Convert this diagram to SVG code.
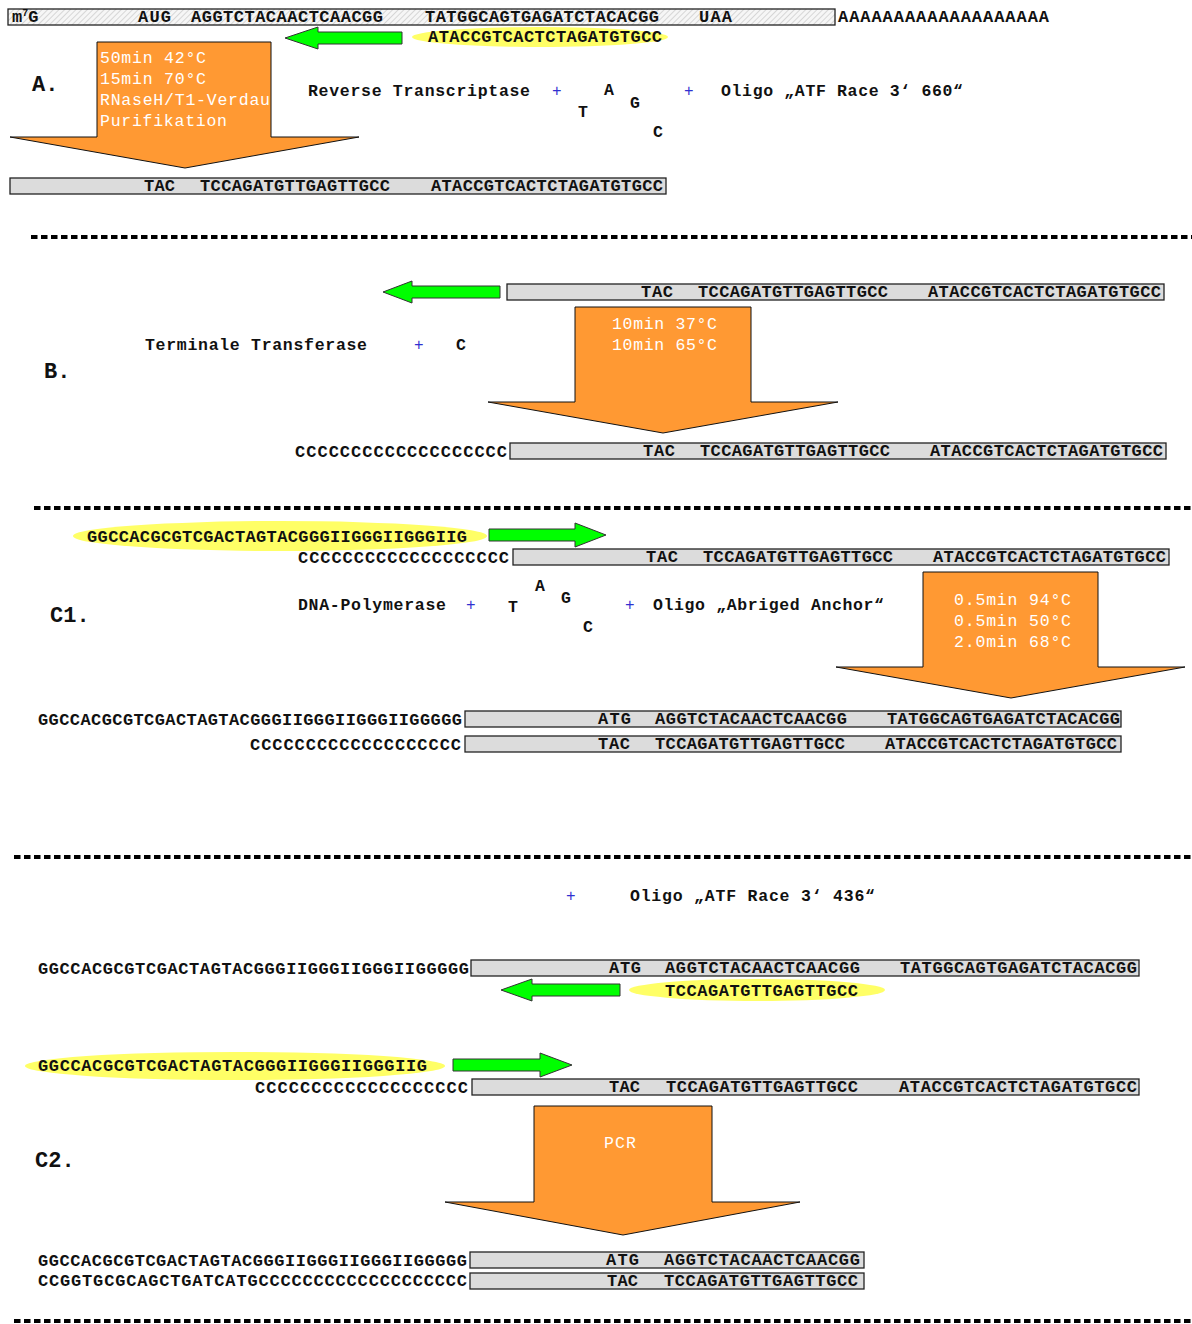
<svg xmlns="http://www.w3.org/2000/svg" width="1192" height="1324" viewBox="0 0 1192 1324">
<defs>
<pattern id="hatch" patternUnits="userSpaceOnUse" width="4" height="4" patternTransform="rotate(45)">
<rect width="4" height="4" fill="#f6f6f6"/>
<line x1="0" y1="0" x2="0" y2="4" stroke="#bbbbbb" stroke-width="1.1"/>
</pattern>
</defs>
<style>
text{font-family:"Liberation Mono","Courier New",monospace;}
.seq{font-size:17px;font-weight:bold;fill:#111;}
.lbl{font-size:16.5px;font-weight:bold;fill:#111;}
.big{font-size:22px;font-weight:bold;fill:#111;}
.wt{font-size:16.5px;fill:#fff;}
.plus{font-size:16px;fill:#3030d0;}
.bar{fill:#dcdcdc;stroke:#222;stroke-width:1.3;}
.green{fill:#00ff00;stroke:#333;stroke-width:1;}
.yel{fill:#ffff66;}
.orange{fill:#ff9933;stroke:#111;stroke-width:1;}
.dash{stroke:#000;stroke-width:4;stroke-dasharray:6.5 3.5;fill:none;}
</style>

<g id="separators">
<line class="dash" x1="31" y1="237" x2="1192" y2="237"/>
<line class="dash" x1="34" y1="508" x2="1192" y2="508"/>
<line class="dash" x1="14" y1="857" x2="1192" y2="857"/>
<line class="dash" x1="14" y1="1321" x2="1192" y2="1321"/>
</g>

<!-- Section A -->
<g id="mrna">
<rect x="8" y="9" width="827" height="16" fill="url(#hatch)" stroke="#222" stroke-width="1.3"/>
<text class="seq" x="12" y="22">m<tspan font-size="10" dy="-6">7</tspan><tspan dy="6">G</tspan></text>
<text class="seq" x="138" y="22" textLength="33" lengthAdjust="spacing">AUG</text>
<text class="seq" x="191" y="22" textLength="192" lengthAdjust="spacing">AGGTCTACAACTCAACGG</text>
<text class="seq" x="425" y="22" textLength="234" lengthAdjust="spacing">TATGGCAGTGAGATCTACACGG</text>
<text class="seq" x="699" y="22" textLength="33" lengthAdjust="spacing">UAA</text>
<text class="seq" x="838" y="22" textLength="211" lengthAdjust="spacing">AAAAAAAAAAAAAAAAAAA</text>
</g>
<g id="primerA">
<ellipse class="yel" cx="540" cy="37" rx="128" ry="10"/>
<text class="seq" x="428" y="42" textLength="234" lengthAdjust="spacing">ATACCGTCACTCTAGATGTGCC</text>
</g>
<g id="labelA"><text class="big" x="32" y="91">A.</text></g>
<g id="reagentsA">
<text class="lbl" x="308" y="96" textLength="222" lengthAdjust="spacing">Reverse Transcriptase</text>
<text class="plus" x="552" y="96">+</text>
<text class="lbl" x="604" y="95">A</text>
<text class="lbl" x="578" y="117">T</text>
<text class="lbl" x="630" y="108">G</text>
<text class="lbl" x="653" y="137">C</text>
<text class="plus" x="684" y="96">+</text>
<text class="lbl" x="721" y="96" textLength="242" lengthAdjust="spacing">Oligo „ATF Race 3‘ 660“</text>
</g>
<g id="stepA">
<polygon class="orange" points="97,42 271,42 271,137 359,137 185,168 10,137 97,137"/>
<text class="wt" x="100" y="63" textLength="106" lengthAdjust="spacing">50min 42°C</text>
<text class="wt" x="100" y="84" textLength="106" lengthAdjust="spacing">15min 70°C</text>
<text class="wt" x="100" y="105" textLength="170" lengthAdjust="spacing">RNaseH/T1-Verdau</text>
<text class="wt" x="100" y="126" textLength="127" lengthAdjust="spacing">Purifikation</text>
</g>
<g id="cdnaA">
<rect class="bar" x="10" y="178" width="656" height="16"/>
<text class="seq" x="144" y="191" textLength="31" lengthAdjust="spacing">TAC</text>
<text class="seq" x="200" y="191" textLength="190" lengthAdjust="spacing">TCCAGATGTTGAGTTGCC</text>
<text class="seq" x="431" y="191" textLength="232" lengthAdjust="spacing">ATACCGTCACTCTAGATGTGCC</text>
</g>

<!-- Section B -->
<g id="cdnaB1">
<rect class="bar" x="507" y="284" width="657" height="16"/>
<text class="seq" x="641" y="297" textLength="32" lengthAdjust="spacing">TAC</text>
<text class="seq" x="698" y="297" textLength="190" lengthAdjust="spacing">TCCAGATGTTGAGTTGCC</text>
<text class="seq" x="928" y="297" textLength="233" lengthAdjust="spacing">ATACCGTCACTCTAGATGTGCC</text>
</g>
<g id="labelB"><text class="big" x="44" y="378">B.</text></g>
<g id="reagentsB">
<text class="lbl" x="145" y="350" textLength="222" lengthAdjust="spacing">Terminale Transferase</text>
<text class="plus" x="414" y="350">+</text>
<text class="lbl" x="456" y="350">C</text>
</g>
<g id="stepB">
<polygon class="orange" points="575,307 751,307 751,402 838,402 663,433 488,402 575,402"/>
<text class="wt" x="612" y="329" textLength="105" lengthAdjust="spacing">10min 37°C</text>
<text class="wt" x="612" y="350" textLength="105" lengthAdjust="spacing">10min 65°C</text>
</g>
<g id="cdnaB2">
<text class="seq" x="295" y="457" textLength="212" lengthAdjust="spacing">CCCCCCCCCCCCCCCCCCC</text>
<rect class="bar" x="510" y="443" width="656" height="16"/>
<text class="seq" x="643" y="456" textLength="32" lengthAdjust="spacing">TAC</text>
<text class="seq" x="700" y="456" textLength="190" lengthAdjust="spacing">TCCAGATGTTGAGTTGCC</text>
<text class="seq" x="930" y="456" textLength="233" lengthAdjust="spacing">ATACCGTCACTCTAGATGTGCC</text>
</g>

<!-- Section C1 -->
<g id="anchorC1">
<ellipse class="yel" cx="280" cy="536" rx="207" ry="15"/>
<text class="seq" x="87" y="542" textLength="380" lengthAdjust="spacing">GGCCACGCGTCGACTAGTACGGGIIGGGIIGGGIIG</text>
</g>
<g id="cdnaC1">
<text class="seq" x="298" y="563" textLength="211" lengthAdjust="spacing">CCCCCCCCCCCCCCCCCCC</text>
<rect class="bar" x="513" y="549" width="656" height="16"/>
<text class="seq" x="646" y="562" textLength="32" lengthAdjust="spacing">TAC</text>
<text class="seq" x="703" y="562" textLength="190" lengthAdjust="spacing">TCCAGATGTTGAGTTGCC</text>
<text class="seq" x="933" y="562" textLength="233" lengthAdjust="spacing">ATACCGTCACTCTAGATGTGCC</text>
</g>
<g id="labelC1"><text class="big" x="50" y="622">C1.</text></g>
<g id="reagentsC1">
<text class="lbl" x="298" y="610" textLength="148" lengthAdjust="spacing">DNA-Polymerase</text>
<text class="plus" x="466" y="610">+</text>
<text class="lbl" x="508" y="612">T</text>
<text class="lbl" x="535" y="591">A</text>
<text class="lbl" x="561" y="603">G</text>
<text class="lbl" x="583" y="632">C</text>
<text class="plus" x="625" y="610">+</text>
<text class="lbl" x="653" y="610" textLength="231" lengthAdjust="spacing">Oligo „Abriged Anchor“</text>
</g>
<g id="stepC1">
<polygon class="orange" points="923,572 1098,572 1098,667 1185,667 1011,698 836,667 923,667"/>
<text class="wt" x="954" y="605" textLength="117" lengthAdjust="spacing">0.5min 94°C</text>
<text class="wt" x="954" y="626" textLength="117" lengthAdjust="spacing">0.5min 50°C</text>
<text class="wt" x="954" y="647" textLength="117" lengthAdjust="spacing">2.0min 68°C</text>
</g>
<g id="dsC1a">
<text class="seq" x="38" y="725" textLength="424" lengthAdjust="spacing">GGCCACGCGTCGACTAGTACGGGIIGGGIIGGGIIGGGGG</text>
<rect class="bar" x="465" y="711" width="656" height="16"/>
<text class="seq" x="598" y="724" textLength="33" lengthAdjust="spacing">ATG</text>
<text class="seq" x="655" y="724" textLength="192" lengthAdjust="spacing">AGGTCTACAACTCAACGG</text>
<text class="seq" x="887" y="724" textLength="233" lengthAdjust="spacing">TATGGCAGTGAGATCTACACGG</text>
</g>
<g id="dsC1b">
<text class="seq" x="250" y="750" textLength="211" lengthAdjust="spacing">CCCCCCCCCCCCCCCCCCC</text>
<rect class="bar" x="465" y="736" width="656" height="16"/>
<text class="seq" x="598" y="749" textLength="32" lengthAdjust="spacing">TAC</text>
<text class="seq" x="655" y="749" textLength="190" lengthAdjust="spacing">TCCAGATGTTGAGTTGCC</text>
<text class="seq" x="885" y="749" textLength="232" lengthAdjust="spacing">ATACCGTCACTCTAGATGTGCC</text>
</g>

<!-- Section C2 -->
<g id="reagentsC2">
<text class="plus" x="566" y="901">+</text>
<text class="lbl" x="630" y="901" textLength="245" lengthAdjust="spacing">Oligo „ATF Race 3‘ 436“</text>
</g>
<g id="dsC2a">
<text class="seq" x="38" y="974" textLength="431" lengthAdjust="spacing">GGCCACGCGTCGACTAGTACGGGIIGGGIIGGGIIGGGGG</text>
<rect class="bar" x="471" y="960" width="668" height="16"/>
<text class="seq" x="609" y="973" textLength="32" lengthAdjust="spacing">ATG</text>
<text class="seq" x="665" y="973" textLength="195" lengthAdjust="spacing">AGGTCTACAACTCAACGG</text>
<text class="seq" x="900" y="973" textLength="237" lengthAdjust="spacing">TATGGCAGTGAGATCTACACGG</text>
</g>
<g id="primerC2">
<ellipse class="yel" cx="757" cy="990" rx="128" ry="11"/>
<text class="seq" x="665" y="996" textLength="193" lengthAdjust="spacing">TCCAGATGTTGAGTTGCC</text>
</g>
<g id="anchorC2">
<ellipse class="yel" cx="235" cy="1066" rx="210" ry="14"/>
<text class="seq" x="38" y="1071" textLength="389" lengthAdjust="spacing">GGCCACGCGTCGACTAGTACGGGIIGGGIIGGGIIG</text>
</g>
<g id="dsC2b">
<text class="seq" x="255" y="1093" textLength="213" lengthAdjust="spacing">CCCCCCCCCCCCCCCCCCC</text>
<rect class="bar" x="472" y="1079" width="667" height="16"/>
<text class="seq" x="609" y="1092" textLength="31" lengthAdjust="spacing">TAC</text>
<text class="seq" x="666" y="1092" textLength="192" lengthAdjust="spacing">TCCAGATGTTGAGTTGCC</text>
<text class="seq" x="899" y="1092" textLength="238" lengthAdjust="spacing">ATACCGTCACTCTAGATGTGCC</text>
</g>
<g id="labelC2"><text class="big" x="35" y="1167">C2.</text></g>
<g id="stepC2">
<polygon class="orange" points="534,1106 712,1106 712,1202 800,1202 623,1235 445,1202 534,1202"/>
<text class="wt" x="604" y="1148" textLength="32" lengthAdjust="spacing">PCR</text>
</g>
<g id="productC2a">
<text class="seq" x="38" y="1266" textLength="429" lengthAdjust="spacing">GGCCACGCGTCGACTAGTACGGGIIGGGIIGGGIIGGGGG</text>
<rect class="bar" x="470" y="1252" width="394" height="16"/>
<text class="seq" x="606" y="1265" textLength="33" lengthAdjust="spacing">ATG</text>
<text class="seq" x="664" y="1265" textLength="196" lengthAdjust="spacing">AGGTCTACAACTCAACGG</text>
</g>
<g id="productC2b">
<text class="seq" x="38" y="1286" textLength="429" lengthAdjust="spacing">CCGGTGCGCAGCTGATCATGCCCCCCCCCCCCCCCCCCC</text>
<rect class="bar" x="470" y="1273" width="394" height="16"/>
<text class="seq" x="607" y="1286" textLength="31" lengthAdjust="spacing">TAC</text>
<text class="seq" x="664" y="1286" textLength="194" lengthAdjust="spacing">TCCAGATGTTGAGTTGCC</text>
</g>

<g id="connectors">
<polygon class="green" points="285,38 318,27 318,32 402,32 402,44 318,44 318,49"/>
<polygon class="green" points="383,292 412,281 412,286 500,286 500,298 412,298 412,303"/>
<polygon class="green" points="606,535 575,523 575,529 489,529 489,541 575,541 575,547"/>
<polygon class="green" points="501,990 532,979 532,984 620,984 620,996 532,996 532,1001"/>
<polygon class="green" points="572,1065 540,1053 540,1059 453,1059 453,1071 540,1071 540,1077"/>
</g>
</svg>
